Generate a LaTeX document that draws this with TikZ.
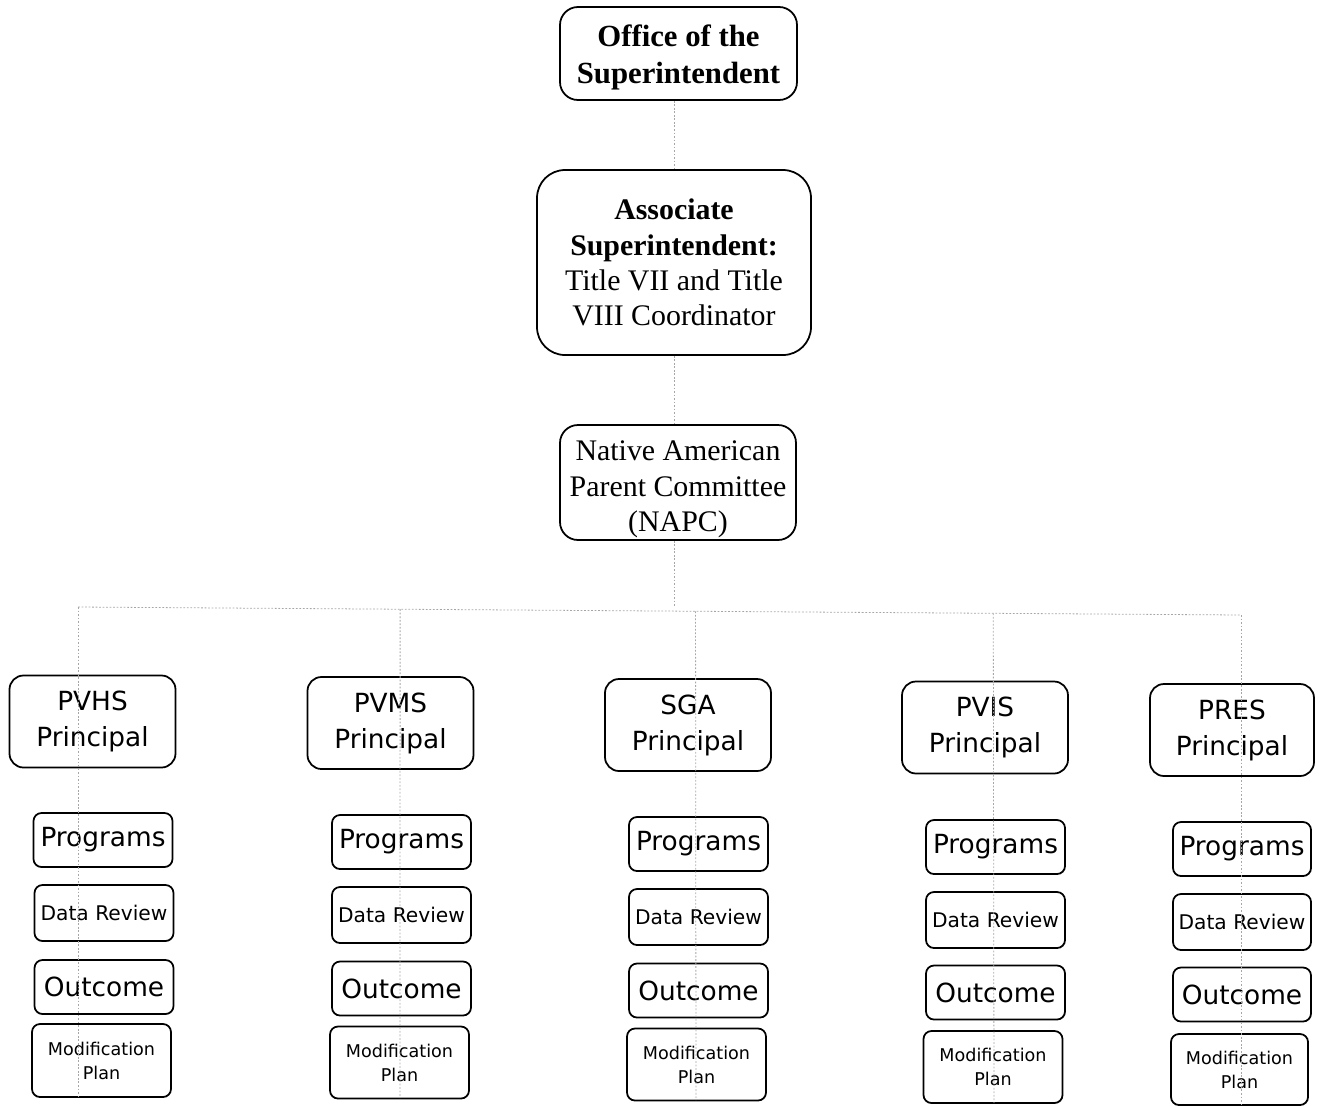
\documentclass[tikz,border=0pt]{standalone}
\usepackage{fontspec}
\setmainfont{Liberation Serif}
\newfontfamily\schoolfont{DejaVu Sans}
\usepackage{tikz}
\usetikzlibrary{calc}
\usetikzlibrary{positioning}

\begin{document}
\begin{tikzpicture}[
    officebox/.style={draw=black, line width=1pt, rounded corners=0.36cm, inner sep=0pt, align=center, font=\fontsize{17}{21}\selectfont},
    principalbox/.style={draw=black, line width=1pt, rounded corners=0.28cm, inner sep=0pt, align=center, minimum width=3.32cm, minimum height=1.84cm, font=\schoolfont\fontsize{15}{20.5}\selectfont},
    itembox/.style={draw=black, line width=1pt, rounded corners=0.16cm, inner sep=0pt, align=center, minimum width=2.78cm, minimum height=1.08cm, font=\schoolfont\fontsize{15}{18}\selectfont},
    dotline/.style={draw=gray!70, line width=0.45pt, dash pattern=on 1pt off 1pt}
]
    \useasboundingbox (0,0) rectangle (26.4,-22.1);

    % Top of the chart
    % - [Office and Associate]
    \node at (13.57, -1.07) [officebox, minimum width=4.74cm, minimum height=1.86cm, font=\bfseries\fontsize{17.5}{21}\selectfont](office){\rule{0pt}{16.5pt}Office of the\\Superintendent};
    \node at (13.48, -5.25) [officebox, rounded corners=0.56cm, minimum width=5.48cm, minimum height=3.70cm, font=\fontsize{17}{20}\selectfont](assoc){\textbf{Associate}\\\textbf{Superintendent:}\\Title VII and Title\\VIII Coordinator};
    % - [Parent committee]
    \node at (13.56, -9.65) [officebox, minimum width=4.72cm, minimum height=2.30cm, font=\fontsize{17}{20}\selectfont](napc){\rule{0pt}{19pt}Native American\\Parent Committee\\(NAPC)};
    % -- Links down the middle
    \draw [dotline] (office.south -| assoc.north) -- (assoc.north) ;
    \draw [dotline] (assoc.south) -- (assoc.south |- napc.north) ;

    % Bus to the five schools
    \coordinate (bus_l) at (1.56, -12.14);
    \coordinate (bus_r) at (24.82, -12.30);
    \draw [dotline] (bus_l) -- (bus_r) ;
    \draw [dotline] (napc.south -| assoc.south) -- (assoc.south |- bus_l) ;

    % PVHS column
    % - [Fig: principal and items]
    \node at (1.85, -14.43) [principalbox](pvhs){PVHS\\Principal};
    \node at (2.06, -16.80) [itembox](pvhs_prog){Programs};
    \node at (2.08, -18.26) [itembox, minimum height=1.12cm, font=\schoolfont\fontsize{11.5}{14}\selectfont](pvhs_data){Data Review};
    \node at (2.08, -19.74) [itembox](pvhs_out){Outcome};
    \node at (2.03, -21.21) [itembox, minimum height=1.46cm, font=\schoolfont\fontsize{10}{13.7}\selectfont](pvhs_mod){Modification\\Plan};
    % -- line through the column
    \coordinate (pvhs_end) at (1.56, -21.94);
    \draw [dotline] (bus_l) -- (pvhs_end) ;

    % PVMS column
    % - [Fig: principal and items]
    \node at (7.81, -14.46) [principalbox](pvms){PVMS\\Principal};
    \node at (8.03, -16.84) [itembox](pvms_prog){Programs};
    \node at (8.03, -18.30) [itembox, minimum height=1.12cm, font=\schoolfont\fontsize{11.5}{14}\selectfont](pvms_data){Data Review};
    \node at (8.03, -19.77) [itembox](pvms_out){Outcome};
    \node at (7.99, -21.25) [itembox, minimum height=1.44cm, font=\schoolfont\fontsize{10}{13.7}\selectfont](pvms_mod){Modification\\Plan};
    % -- line through the column
    \coordinate (pvms_top) at ($(bus_l)!0.277!(bus_r)$);
    \coordinate (pvms_end) at (8.00, -21.96);
    \draw [dotline] (pvms_top) -- (pvms_end) ;

    % SGA column
    % - [Fig: principal and items]
    \node at (13.76, -14.50) [principalbox](sga){SGA\\Principal};
    \node at (13.97, -16.88) [itembox](sga_prog){Programs};
    \node at (13.97, -18.34) [itembox, minimum height=1.12cm, font=\schoolfont\fontsize{11.5}{14}\selectfont](sga_data){Data Review};
    \node at (13.97, -19.81) [itembox](sga_out){Outcome};
    \node at (13.93, -21.29) [itembox, minimum height=1.44cm, font=\schoolfont\fontsize{10}{13.7}\selectfont](sga_mod){Modification\\Plan};
    % -- line through the column
    \coordinate (sga_top) at ($(bus_l)!0.531!(bus_r)$);
    \coordinate (sga_end) at (13.92, -22.00);
    \draw [dotline] (sga_top) -- (sga_end) ;

    % PVIS column
    % - [Fig: principal and items]
    \node at (19.70, -14.55) [principalbox](pvis){PVIS\\Principal};
    \node at (19.91, -16.94) [itembox](pvis_prog){Programs};
    \node at (19.91, -18.40) [itembox, minimum height=1.12cm, font=\schoolfont\fontsize{11.5}{14}\selectfont](pvis_data){Data Review};
    \node at (19.91, -19.85) [itembox](pvis_out){Outcome};
    \node at (19.86, -21.34) [itembox, minimum height=1.44cm, font=\schoolfont\fontsize{10}{13.7}\selectfont](pvis_mod){Modification\\Plan};
    % -- line through the column
    \coordinate (pvis_top) at ($(bus_l)!0.787!(bus_r)$);
    \coordinate (pvis_end) at (19.88, -22.06);
    \draw [dotline] (pvis_top) -- (pvis_end) ;

    % PRES column
    % - [Fig: principal and items]
    \node at (24.64, -14.60) [principalbox, minimum width=3.28cm](pres){PRES\\Principal};
    \node at (24.84, -16.98) [itembox, minimum width=2.76cm](pres_prog){Programs};
    \node at (24.84, -18.44) [itembox, minimum width=2.76cm, minimum height=1.12cm, font=\schoolfont\fontsize{11.5}{14}\selectfont](pres_data){Data Review};
    \node at (24.84, -19.89) [itembox, minimum width=2.76cm](pres_out){Outcome};
    \node at (24.79, -21.39) [itembox, minimum width=2.74cm, minimum height=1.42cm, font=\schoolfont\fontsize{10}{13.7}\selectfont](pres_mod){Modification\\Plan};
    % -- line through the column
    \coordinate (pres_end) at (24.82, -22.10);
    \draw [dotline] (bus_r) -- (pres_end) ;

\end{tikzpicture}
\end{document}
